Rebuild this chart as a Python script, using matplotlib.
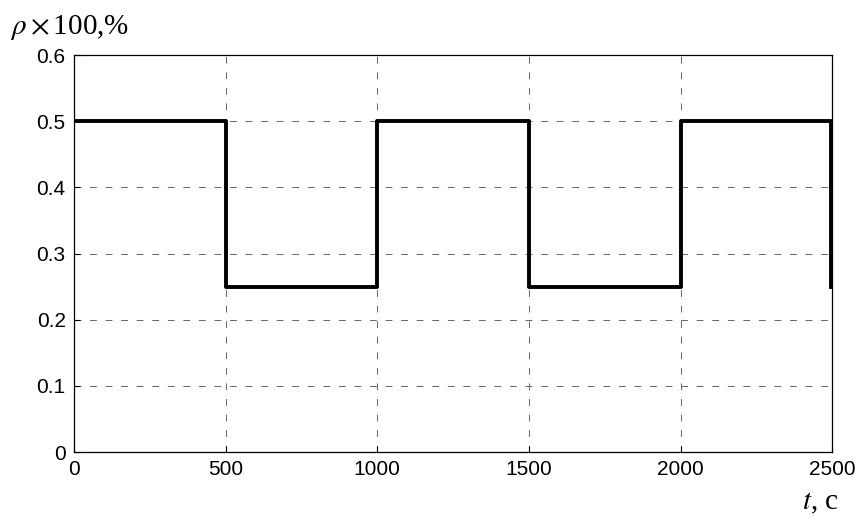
import matplotlib.pyplot as plt

plt.rcParams["mathtext.fontset"] = "stix"

# switching moments (s) and concentration levels
switchTimes = [0, 500, 1000, 1500, 2000, 2497]
levels = [0.5, 0.25, 0.5, 0.25, 0.5, 0.25]
xTicks = [0, 500, 1000, 1500, 2000, 2500]
yTicks = [0, 0.1, 0.2, 0.3, 0.4, 0.5, 0.6]
yTickLabels = ["0", "0.1", "0.2", "0.3", "0.4", "0.5", "0.6"]

fig = plt.figure(figsize=(8.63, 5.21), dpi=100)
ax = fig.add_axes([0.0857, 0.1324, 0.8787, 0.762])

ax.step(switchTimes, levels, where="post", color="black", linewidth=2.8)

ax.set_xlim(0, 2500)
ax.set_ylim(0, 0.6)
ax.set_xticks(xTicks)
ax.set_yticks(yTicks)
ax.set_yticklabels(yTickLabels)
ax.tick_params(direction="in", length=4, labelsize=15, width=0.8, pad=6)
for lbl in ax.get_xticklabels() + ax.get_yticklabels():
    lbl.set_fontfamily("Liberation Sans")
ax.grid(True, linestyle=(0, (7, 9)), color="#666666", linewidth=0.7)
for s in ax.spines.values():
    s.set_linewidth(0.9)

fig.text(0.012, 0.948, "$\\rho\\times$100,%", fontsize=21, family="Liberation Serif", va="center")
fig.text(0.929, 0.035, "$t$, c", fontsize=21, family="Liberation Serif", va="center")

fig.savefig("out.png", dpi=100)
